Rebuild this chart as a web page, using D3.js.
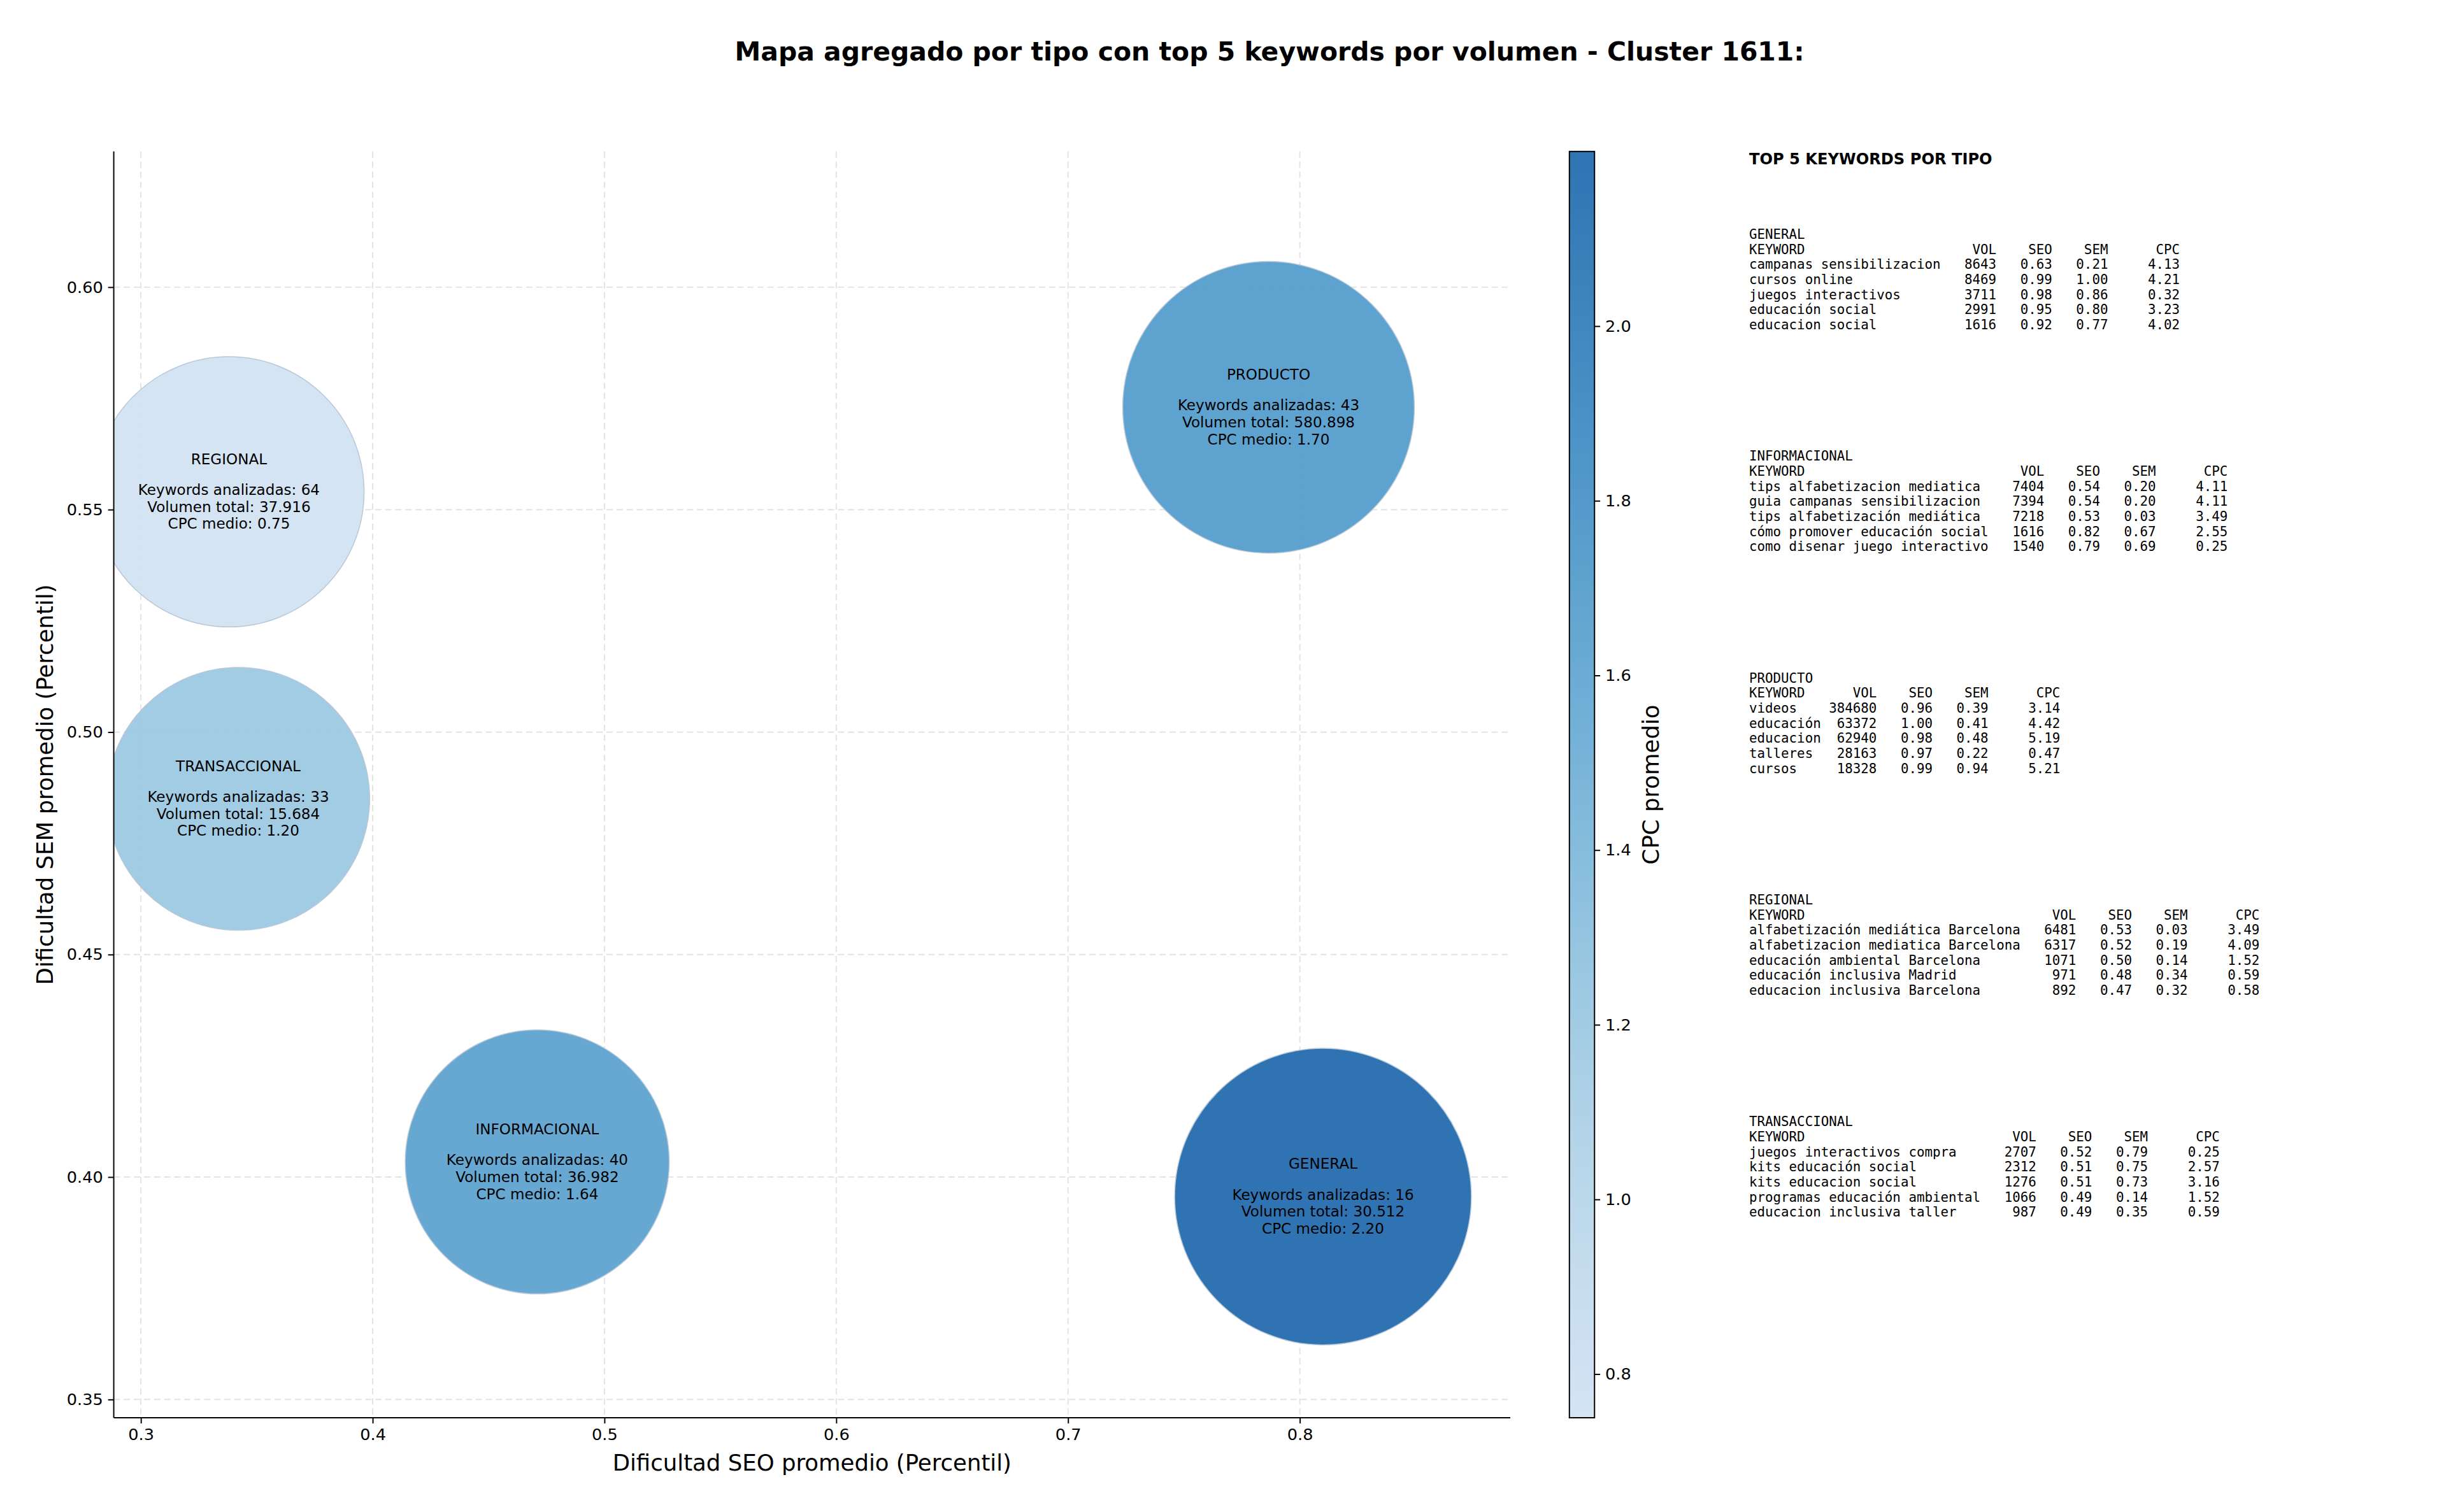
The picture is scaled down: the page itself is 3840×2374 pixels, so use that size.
<!DOCTYPE html>
<html><head><meta charset="utf-8">
<script src="https://cdn.jsdelivr.net/npm/d3@7"></script>
<style>body{margin:0;background:#fff}</style>
</head><body>
<svg id="c" width="3840" height="2374"></svg>
<script>
const tipos = ["REGIONAL","TRANSACCIONAL","INFORMACIONAL","PRODUCTO","GENERAL"];
const seoProm = [0.338,0.342,0.471,0.7865,0.810];
const semProm = [0.554,0.485,0.4034,0.573,0.3956];
const cpcProm = [0.75,1.20,1.64,1.70,2.20];
const kwCount = [64,33,40,43,16];
const volTotal = ["37.916","15.684","36.982","580.898","30.512"];
const bubbleSize = [0.911,0.886,0.89,0.983,1.0];
const xTicks = [0.3,0.4,0.5,0.6,0.7,0.8];
const yTicks = [0.35,0.40,0.45,0.50,0.55,0.60];
const cbTicks = [0.8,1.0,1.2,1.4,1.6,1.8,2.0];

const panelOrder = ["GENERAL","INFORMACIONAL","PRODUCTO","REGIONAL","TRANSACCIONAL"];
const topKw = {
 GENERAL:[["campanas sensibilizacion",8643,0.63,0.21,4.13],["cursos online",8469,0.99,1.00,4.21],["juegos interactivos",3711,0.98,0.86,0.32],["educación social",2991,0.95,0.80,3.23],["educacion social",1616,0.92,0.77,4.02]],
 INFORMACIONAL:[["tips alfabetizacion mediatica",7404,0.54,0.20,4.11],["guia campanas sensibilizacion",7394,0.54,0.20,4.11],["tips alfabetización mediática",7218,0.53,0.03,3.49],["cómo promover educación social",1616,0.82,0.67,2.55],["como disenar juego interactivo",1540,0.79,0.69,0.25]],
 PRODUCTO:[["videos",384680,0.96,0.39,3.14],["educación",63372,1.00,0.41,4.42],["educacion",62940,0.98,0.48,5.19],["talleres",28163,0.97,0.22,0.47],["cursos",18328,0.99,0.94,5.21]],
 REGIONAL:[["alfabetización mediática Barcelona",6481,0.53,0.03,3.49],["alfabetizacion mediatica Barcelona",6317,0.52,0.19,4.09],["educación ambiental Barcelona",1071,0.50,0.14,1.52],["educación inclusiva Madrid",971,0.48,0.34,0.59],["educacion inclusiva Barcelona",892,0.47,0.32,0.58]],
 TRANSACCIONAL:[["juegos interactivos compra",2707,0.52,0.79,0.25],["kits educación social",2312,0.51,0.75,2.57],["kits educacion social",1276,0.51,0.73,3.16],["programas educación ambiental",1066,0.49,0.14,1.52],["educacion inclusiva taller",987,0.49,0.35,0.59]]
};

const svg = d3.select("#c").append("g").attr("transform","scale(0.9867)");
const F = "DejaVu Sans, sans-serif";
const L=181,R=2403,T=241,B=2256;
const x = d3.scaleLinear().domain([0.2883,0.8908]).range([L,R]);
const y = d3.scaleLinear().domain([0.3459,0.6305]).range([B,T]);
const cmin=0.75,cmax=2.20;
const col = v => d3.interpolateBlues(0.2+0.6*(v-cmin)/(cmax-cmin));
const rS = d3.scaleLinear().domain([0,1]).range([0,236]);

svg.append("text").attr("x",2020).attr("y",96).attr("text-anchor","middle").attr("font-family",F)
 .attr("font-weight","bold").attr("font-size",41.5).text("Mapa agregado por tipo con top 5 keywords por volumen - Cluster 1611:");

const g = svg.append("g");
g.selectAll(".gx").data(xTicks).join("line").attr("x1",d=>x(d)).attr("x2",d=>x(d)).attr("y1",T).attr("y2",B)
 .attr("stroke","#e3e3e3").attr("stroke-width",2).attr("stroke-dasharray","10,6");
g.selectAll(".gy").data(yTicks).join("line").attr("y1",d=>y(d)).attr("y2",d=>y(d)).attr("x1",L).attr("x2",R)
 .attr("stroke","#e3e3e3").attr("stroke-width",2).attr("stroke-dasharray","10,6");

svg.append("clipPath").attr("id","cp").append("rect").attr("x",L).attr("y",T).attr("width",R-L).attr("height",B-T);
const bg = svg.append("g").attr("clip-path","url(#cp)");
tipos.forEach((t,i)=>{
  const cx=x(seoProm[i]), cy=y(semProm[i]);
  bg.append("circle").attr("cx",cx).attr("cy",cy).attr("r",rS(bubbleSize[i]))
   .attr("fill",col(cpcProm[i])).attr("fill-opacity",0.9).attr("stroke","#b8c8d8").attr("stroke-width",1.5);
  const lines=[[t,-52],["Keywords analizadas: "+kwCount[i],-3],["Volumen total: "+volTotal[i],24],["CPC medio: "+cpcProm[i].toFixed(2),51]];
  lines.forEach(([s,dy])=>bg.append("text").attr("x",cx).attr("y",cy+dy+8).attr("text-anchor","middle")
    .attr("font-family",F).attr("font-size",23.4).text(s));
});

const ax = svg.append("g").attr("transform",`translate(0,${B})`).call(d3.axisBottom(x).tickValues(xTicks).tickFormat(d3.format(".1f")).tickSize(9).tickPadding(8));
const ay = svg.append("g").attr("transform",`translate(${L},0)`).call(d3.axisLeft(y).tickValues(yTicks).tickFormat(d3.format(".2f")).tickSize(9).tickPadding(8));
[ax,ay].forEach(a=>{a.selectAll("text").attr("font-size",26).attr("font-family",F).attr("fill","#000");
 a.selectAll("line").attr("stroke-width",2);a.select(".domain").attr("stroke-width",2);
 a.select(".domain").attr("d", a===ax?`M${L},0H${R}`:`M0,${T}V${B}`);});
svg.append("text").attr("x",(L+R)/2).attr("y",2340).attr("text-anchor","middle").attr("font-family",F).attr("font-size",36).text("Dificultad SEO promedio (Percentil)");
svg.append("text").attr("transform",`translate(84,${(T+B)/2}) rotate(-90)`).attr("text-anchor","middle").attr("font-family",F).attr("font-size",36).text("Dificultad SEM promedio (Percentil)");

const CL=2497,CR=2537;
const cy = d3.scaleLinear().domain([cmin,cmax]).range([B,T]);
const lg=svg.append("defs").append("linearGradient").attr("id","lg").attr("x1",0).attr("y1",1).attr("x2",0).attr("y2",0);
d3.range(0,1.0001,0.05).forEach(t=>lg.append("stop").attr("offset",t).attr("stop-color",col(cmin+t*(cmax-cmin))).attr("stop-opacity",0.9));
svg.append("rect").attr("x",CL).attr("y",T).attr("width",CR-CL).attr("height",B-T).attr("fill","url(#lg)").attr("stroke","#000").attr("stroke-width",2);
const ac=svg.append("g").attr("transform",`translate(${CR},0)`).call(d3.axisRight(cy).tickValues(cbTicks).tickFormat(d3.format(".1f")).tickSize(9).tickPadding(8));
ac.select(".domain").remove();
ac.selectAll("text").attr("font-size",26).attr("font-family",F);ac.selectAll("line").attr("stroke-width",2);
svg.append("text").attr("transform",`translate(2639,${(T+B)/2}) rotate(-90)`).attr("text-anchor","middle").attr("font-family",F).attr("font-size",36).text("CPC promedio");

const PX=2783, M="DejaVu Sans Mono, monospace";
svg.append("text").attr("x",PX).attr("y",262).attr("font-family",F).attr("font-weight","bold").attr("font-size",24.5).text("TOP 5 KEYWORDS POR TIPO");
const rp=(s,n)=>String(s).padStart(n," ");
panelOrder.forEach((t,k)=>{
  const rows=topKw[t];
  const w=d3.max(rows,r=>r[0].length);
  const lines=[t, "KEYWORD".padEnd(w," ")+rp("VOL",7)+rp("SEO",7)+rp("SEM",7)+rp("CPC",9)];
  rows.forEach(r=>lines.push(r[0].padEnd(w," ")+rp(r[1],7)+rp(r[2].toFixed(2),7)+rp(r[3].toFixed(2),7)+rp(r[4].toFixed(2),9)));
  const y0=380+k*353;
  lines.forEach((s,j)=>svg.append("text").attr("x",PX).attr("y",y0+j*24).attr("font-family",M).attr("font-size",21.1)
    .attr("xml:space","preserve").style("white-space","pre").text(s));
});
</script></body></html>
